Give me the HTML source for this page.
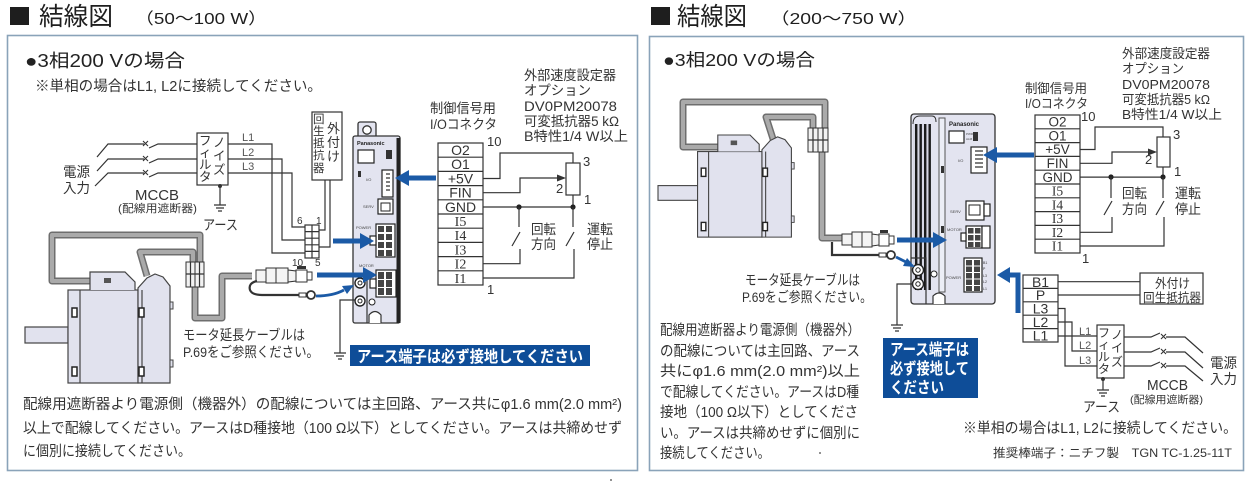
<!DOCTYPE html>
<html><head><meta charset="utf-8">
<style>
html,body{margin:0;padding:0;background:#fff;}
svg{display:block;}
text{font-family:"Liberation Sans","Noto Sans CJK JP",sans-serif;fill:#333;}
.w{stroke:#333;stroke-width:1.2;fill:none;}
.c1{stroke:#6e6e6e;stroke-width:7;fill:none;stroke-linejoin:round;}
.c2{stroke:#aaaaaa;stroke-width:4;fill:none;stroke-linejoin:round;}
.bl{stroke:#1b5aa6;stroke-width:5;fill:none;}
.bf{fill:#1b5aa6;}
.dv{fill:#e3e4f0;stroke:#333;stroke-width:1.3;}
.pk{fill:#fff;stroke:#222;stroke-width:1.2;}
.sq{fill:#444;}
.tiny{font-size:4px;fill:#444;}
.srf{font-family:"Liberation Serif","Noto Serif CJK SC",serif;}
</style></head><body>
<svg width="1250" height="491" viewBox="0 0 1250 491" xmlns="http://www.w3.org/2000/svg">
<defs>
<g id="motor">
 <rect x="0" y="55" width="43" height="16" fill="#e1e2ee" stroke="#444" stroke-width="1.2"/>
 <rect x="43" y="18" width="70" height="93" fill="#e1e2ee" stroke="#444" stroke-width="1.2"/>
 <line x1="55" y1="18" x2="55" y2="111" stroke="#444" stroke-width="1.2"/>
 <rect x="47" y="36" width="5" height="9" fill="#fff" stroke="#222" stroke-width="1.5"/>
 <rect x="47" y="95" width="5" height="9" fill="#fff" stroke="#222" stroke-width="1.5"/>
 <path d="M65 18 V0 H100 L110 10 V18" fill="#e1e2ee" stroke="#444" stroke-width="1.2"/>
 <rect x="79" y="6" width="7" height="5" fill="#555"/>
 <path d="M113 111 V16 L122 6 L130 2 L138 5 L145 14 V111 Z" fill="#e1e2ee" stroke="#444" stroke-width="1.2"/>
 <line x1="117" y1="18" x2="117" y2="111" stroke="#444" stroke-width="1.2"/>
 <rect x="114" y="36" width="5" height="9" fill="#fff" stroke="#222" stroke-width="1.5"/>
 <rect x="114" y="95" width="5" height="9" fill="#fff" stroke="#222" stroke-width="1.5"/>
 <rect x="145" y="30" width="3" height="7" fill="#e1e2ee" stroke="#444"/>
 <rect x="145" y="88" width="3" height="7" fill="#e1e2ee" stroke="#444"/>
</g>
</defs>

<!-- ============ LEFT ============ -->
<rect x="10" y="7" width="19" height="18" fill="#1e1e1e"/>
<text x="39" y="25" font-size="25" textLength="74" lengthAdjust="spacingAndGlyphs" style="fill:#1e1e1e">結線図</text>
<text x="135" y="24" font-size="16" textLength="132" lengthAdjust="spacingAndGlyphs" style="fill:#1e1e1e">（50～100 W）</text>

<rect x="7.5" y="35.5" width="630" height="435" fill="#fff" stroke="#8aa3b9" stroke-width="1.6"/>
<text x="25" y="67" font-size="18" textLength="160" lengthAdjust="spacingAndGlyphs" style="fill:#222">●3相200 Vの場合</text>
<text x="35" y="91" font-size="14.5" textLength="287" lengthAdjust="spacingAndGlyphs">※単相の場合はL1, L2に接続してください。</text>

<!-- power input -->
<text x="63" y="177" font-size="14" textLength="27" lengthAdjust="spacingAndGlyphs">電源</text>
<text x="63" y="193" font-size="14" textLength="27" lengthAdjust="spacingAndGlyphs">入力</text>
<path class="w" d="M97 157 L108 144 H144 M97 171 L108 159 H144 M95 186 L108 173 H144"/>
<g stroke="#333" stroke-width="1.1">
<path d="M143 141 l5 5 m0 -5 l-5 5 M143 156 l5 5 m0 -5 l-5 5 M143 170 l5 5 m0 -5 l-5 5"/>
</g>
<path class="w" d="M149 148 L158 144 H197 M149 163 L158 159 H197 M149 177 L158 173 H197"/>
<text x="135" y="200" font-size="15" textLength="44" lengthAdjust="spacingAndGlyphs">MCCB</text>
<text x="118" y="212" font-size="11" textLength="79" lengthAdjust="spacingAndGlyphs">(配線用遮断器)</text>
<!-- noise filter -->
<rect x="197" y="133" width="31" height="52" fill="#fff" stroke="#333" stroke-width="1.2"/>
<g font-size="12.5">
<text x="199" y="145">フ</text><text x="199" y="157">ィ</text><text x="199" y="169">ル</text><text x="199" y="181">タ</text>
<text x="213" y="147">ノ</text><text x="213" y="160">イ</text><text x="213" y="174">ズ</text>
</g>
<circle cx="220" cy="186" r="2" fill="#333"/>
<path class="w" d="M220 185 V205 M214 205 H226 M216 208 H224 M218 211 H222"/>
<text x="203" y="230" font-size="14" textLength="35" lengthAdjust="spacingAndGlyphs">アース</text>
<!-- L lines -->
<g font-size="11"><text x="242" y="141" style="fill:#555">L1</text><text x="242" y="156" style="fill:#555">L2</text><text x="242" y="170" style="fill:#555">L3</text></g>
<path class="w" d="M228 144 H272 V253 H305 M228 159 H282 V240 H305 M228 173 H292 V227 H305"/>
<!-- connector -->
<rect x="305" y="225" width="14" height="33" fill="#fff" stroke="#333" stroke-width="1.2"/>
<path class="w" d="M312 225 V258 M305 231.6 H319 M305 238.2 H319 M305 244.8 H319 M305 251.4 H319"/>
<g font-size="10"><text x="297" y="224">6</text><text x="316" y="224">1</text><text x="292" y="266">10</text><text x="315" y="266">5</text></g>
<!-- regen resistor -->
<rect x="312" y="112" width="30" height="68" fill="#fff" stroke="#333" stroke-width="1.2"/>
<g font-size="11.5">
<text x="313" y="123">回</text><text x="313" y="135">生</text><text x="313" y="147">抵</text><text x="313" y="159">抗</text><text x="313" y="172">器</text>
</g>
<g font-size="13"><text x="327" y="133">外</text><text x="327" y="147">付</text><text x="327" y="161">け</text></g>
<path class="w" d="M325 180 V230 H319 M330 180 V247 H319"/>

<!-- cables left -->
<path class="c1" d="M90 281 H52 V235 H200 V263"/>
<path class="c2" d="M90 281 H52 V235 H200 V263"/>
<path class="c1" d="M147 276 L140 252 H193 V263"/>
<path class="c2" d="M147 276 L140 252 H193 V263"/>
<path class="c1" d="M195 287 V318 H222 V276 H252"/>
<path class="c2" d="M195 287 V318 H222 V276 H252"/>
<rect x="186" y="262" width="9" height="25" fill="#f2f2f2" stroke="#333"/>
<rect x="195" y="262" width="9" height="25" fill="#f2f2f2" stroke="#333"/>
<path class="w" d="M186 274 H204 M190.5 262 V287 M199.5 262 V287"/>
<use href="#motor" transform="translate(25,272)"/>
<!-- plug left -->
<rect x="256" y="270" width="10" height="12" fill="#f4f4f4" stroke="#333"/>
<rect x="266" y="268" width="22" height="15" fill="#f4f4f4" stroke="#333"/>
<line x1="276" y1="268" x2="276" y2="283" stroke="#333"/>
<path d="M288 270 L296 271 V281 L288 282 Z" fill="#f4f4f4" stroke="#333"/>
<rect x="296" y="270" width="11" height="12" fill="#fff" stroke="#333"/>
<rect x="307" y="272" width="5" height="8" fill="#fff" stroke="#333"/>
<rect x="297" y="266" width="9" height="3" fill="#333"/>
<path d="M257 281 Q248 283 250 290 Q252 295 262 295 H300" stroke="#333" stroke-width="2.2" fill="none"/>
<rect x="299" y="293" width="7" height="4" fill="#fff" stroke="#333"/>
<circle cx="311" cy="295" r="4" fill="#fff" stroke="#333" stroke-width="1.8"/>
<text x="183" y="340" font-size="14" textLength="122" lengthAdjust="spacingAndGlyphs">モータ延長ケーブルは</text>
<text x="183" y="357" font-size="14" textLength="136" lengthAdjust="spacingAndGlyphs">P.69をご参照ください。</text>

<!-- left drive -->
<rect x="358" y="122" width="18" height="17" rx="2" class="dv"/>
<circle cx="367" cy="130" r="4.2" fill="#fff" stroke="#333" stroke-width="1.3"/>
<rect x="353" y="136" width="47" height="187" rx="2" class="dv"/>
<rect x="396.5" y="138" width="4" height="185" fill="#222"/>
<text x="357" y="145" font-size="5.5" font-weight="bold" style="fill:#222">Panasonic</text>
<rect x="358" y="150" width="16" height="13" class="pk"/>
<rect x="386" y="150" width="6" height="9" fill="#333"/>
<rect x="358" y="171" width="3" height="6" fill="#333"/>
<rect x="382" y="170" width="11" height="27" class="pk" stroke-width="1.6"/>
<path class="w" d="M386 174 h4 M386 178 h4 M386 182 h4 M386 186 h4 M386 190 h4"/>
<text x="366" y="181" class="tiny">I/O</text>
<rect x="378" y="199" width="15" height="15" class="pk" stroke-width="1.6"/>
<rect x="381" y="203" width="9" height="8" fill="none" stroke="#222"/>
<text x="363" y="208" class="tiny">SERV</text>
<rect x="376" y="224" width="19" height="33" class="pk"/>
<rect x="370" y="236" width="6" height="9" class="pk"/>
<g class="sq"><rect x="378" y="226" width="6" height="6"/><rect x="386" y="226" width="6" height="6"/><rect x="378" y="234" width="6" height="6"/><rect x="386" y="234" width="6" height="6"/><rect x="378" y="242" width="6" height="6"/><rect x="386" y="242" width="6" height="6"/><rect x="378" y="250" width="6" height="6"/><rect x="386" y="250" width="6" height="6"/></g>
<text x="356" y="229" class="tiny">POWER</text>
<rect x="376" y="270" width="20" height="27" class="pk"/>
<rect x="370" y="279" width="6" height="9" class="pk"/>
<g class="sq"><rect x="378" y="272" width="6" height="7"/><rect x="386" y="272" width="6" height="7"/><rect x="378" y="280" width="6" height="7"/><rect x="386" y="280" width="6" height="7"/><rect x="378" y="288" width="6" height="7"/><rect x="386" y="288" width="6" height="7"/></g>
<text x="359" y="267" class="tiny">MOTOR</text>
<path class="w" d="M353 274 H367 V323"/>
<circle cx="360" cy="283" r="5" fill="#fff" stroke="#222" stroke-width="1.4"/><circle cx="360" cy="283" r="2" fill="none" stroke="#222"/>
<circle cx="360" cy="301" r="5" fill="#fff" stroke="#222" stroke-width="1.4"/><circle cx="360" cy="301" r="2" fill="none" stroke="#222"/>
<circle cx="372" cy="302" r="3" fill="#fff" stroke="#222"/>
<path d="M369 323 V315 Q375 308 381 315 V323" fill="#fff" stroke="#333" stroke-width="1.2"/>
<!-- drive ground -->
<path class="w" d="M355 300 H340 V353 M334 353 H346 M336 356 H344 M338 359 H342"/>

<!-- blue arrows left -->
<line class="bl" x1="436" y1="178" x2="407" y2="178"/><polygon class="bf" points="395,178 409,170 409,186"/>
<line class="bl" x1="333" y1="241" x2="362" y2="241"/><polygon class="bf" points="374,241 360,233 360,249"/>
<line class="bl" x1="317" y1="275" x2="364" y2="275"/><polygon class="bf" points="377,275 363,267 363,283"/>
<path d="M316 296 Q333 296 344 290" stroke="#1b5aa6" stroke-width="2.8" fill="none"/><polygon class="bf" points="354,285 342,286 347,294"/>

<rect x="350" y="345" width="240" height="21" fill="#0e4d98"/>
<text x="357" y="362" font-size="16" font-weight="bold" textLength="226" lengthAdjust="spacingAndGlyphs" style="fill:#fff">アース端子は必ず接地してください</text>

<!-- IO labels left -->
<text x="430" y="113" font-size="13.5" textLength="66" lengthAdjust="spacingAndGlyphs">制御信号用</text>
<text x="430" y="129" font-size="13.5" textLength="67" lengthAdjust="spacingAndGlyphs">I/Oコネクタ</text>
<g font-size="13.5">
<text x="524" y="80" textLength="92" lengthAdjust="spacingAndGlyphs">外部速度設定器</text>
<text x="524" y="95" textLength="67" lengthAdjust="spacingAndGlyphs">オプション</text>
<text x="524" y="111" textLength="93" lengthAdjust="spacingAndGlyphs">DV0PM20078</text>
<text x="524" y="126" textLength="95" lengthAdjust="spacingAndGlyphs">可変抵抗器5 kΩ</text>
<text x="524" y="141" textLength="104" lengthAdjust="spacingAndGlyphs">B特性1/4 W以上</text>
</g>
<!-- IO table left -->
<rect x="438" y="143" width="45" height="142" fill="#fff" stroke="#333" stroke-width="1.2"/>
<path class="w" d="M438 157.2 H483 M438 171.4 H483 M438 185.6 H483 M438 199.8 H483 M438 214 H483 M438 228.2 H483 M438 242.4 H483 M438 256.6 H483 M438 270.8 H483"/>
<g font-size="14" text-anchor="middle">
<text x="460.5" y="155">O2</text><text x="460.5" y="169">O1</text><text x="460.5" y="183.5">+5V</text><text x="460.5" y="197.5">FIN</text><text x="460.5" y="212">GND</text>
<text x="460.5" y="226" class="srf">I5</text><text x="460.5" y="240" class="srf">I4</text><text x="460.5" y="254.5" class="srf">I3</text><text x="460.5" y="268.5" class="srf">I2</text><text x="460.5" y="283" class="srf">I1</text>
</g>
<text x="487" y="146" font-size="13">10</text>
<text x="487" y="294" font-size="13">1</text>
<path class="w" d="M483 178.5 H500 V153 H573 V163 M483 192.7 H520 V178 H558 M483 207 H573 V195"/>
<polygon points="566,178 557,174.5 557,181.5" fill="#333"/>
<rect x="566" y="163" width="14" height="32" fill="#fff" stroke="#333" stroke-width="1.2"/>
<text x="583" y="166" font-size="13">3</text>
<text x="556" y="193" font-size="13">2</text>
<text x="584" y="204" font-size="13">1</text>
<circle cx="519" cy="207" r="2.6" fill="#222"/><circle cx="573" cy="207" r="2.6" fill="#222"/>
<path class="w" d="M519 207 V227 M512 246 L520 232 M520 249 V263.7 H483 M573 207 V227 M566 246 L574 232 M574 249 V278 H483"/>
<g font-size="13.5">
<text x="531" y="234" textLength="25" lengthAdjust="spacingAndGlyphs">回転</text>
<text x="531" y="249" textLength="25" lengthAdjust="spacingAndGlyphs">方向</text>
<text x="587" y="234" textLength="26" lengthAdjust="spacingAndGlyphs">運転</text>
<text x="587" y="249" textLength="26" lengthAdjust="spacingAndGlyphs">停止</text>
</g>

<g font-size="14.5">
<text x="23" y="409" textLength="599" lengthAdjust="spacingAndGlyphs">配線用遮断器より電源側（機器外）の配線については主回路、アース共にφ1.6 mm(2.0 mm²)</text>
<text x="23" y="433" textLength="599" lengthAdjust="spacingAndGlyphs">以上で配線してください。アースはD種接地（100 Ω以下）としてください。アースは共締めせず</text>
<text x="23" y="456" textLength="168" lengthAdjust="spacingAndGlyphs">に個別に接続してください。</text>
</g>
<circle cx="611" cy="480" r="0.9" fill="#444"/>

<!-- ============ RIGHT ============ -->
<rect x="651" y="7" width="19" height="18" fill="#1e1e1e"/>
<text x="677" y="25" font-size="25" textLength="70" lengthAdjust="spacingAndGlyphs" style="fill:#1e1e1e">結線図</text>
<text x="770" y="24" font-size="16" textLength="147" lengthAdjust="spacingAndGlyphs" style="fill:#1e1e1e">（200～750 W）</text>
<rect x="649.5" y="36.5" width="594" height="434" fill="#fff" stroke="#8aa3b9" stroke-width="1.6"/>
<text x="663" y="66" font-size="17.5" textLength="152" lengthAdjust="spacingAndGlyphs" style="fill:#222">●3相200 Vの場合</text>

<!-- cables right -->
<path class="c1" d="M718 147 H683 V102 H825 V128"/>
<path class="c2" d="M718 147 H683 V102 H825 V128"/>
<path class="c1" d="M774 142 L766 117 H813 V128"/>
<path class="c2" d="M774 142 L766 117 H813 V128"/>
<path class="c1" d="M822 152 V238 H842"/>
<path class="c2" d="M822 152 V238 H842"/>
<rect x="808" y="128" width="10" height="24" fill="#f2f2f2" stroke="#333"/>
<rect x="818" y="128" width="10" height="24" fill="#f2f2f2" stroke="#333"/>
<path class="w" d="M808 140 H828 M813 128 V152 M823 128 V152"/>
<use href="#motor" transform="translate(658,135) scale(0.92)"/>
<!-- plug right -->
<rect x="842" y="234" width="10" height="11" fill="#f4f4f4" stroke="#333"/>
<rect x="852" y="232" width="20" height="15" fill="#f4f4f4" stroke="#333"/>
<line x1="862" y1="232" x2="862" y2="247" stroke="#333"/>
<path d="M872 234 L879 235 V245 L872 246 Z" fill="#f4f4f4" stroke="#333"/>
<rect x="879" y="234" width="10" height="12" fill="#fff" stroke="#333"/>
<rect x="889" y="236" width="5" height="8" fill="#fff" stroke="#333"/>
<rect x="880" y="230" width="8" height="3" fill="#333"/>
<path d="M832 242 V255 H880" stroke="#333" stroke-width="2.2" fill="none"/>
<rect x="879" y="253" width="7" height="4" fill="#fff" stroke="#333"/>
<circle cx="891" cy="255" r="4" fill="#fff" stroke="#333" stroke-width="1.8"/>
<text x="745" y="285" font-size="14" textLength="115" lengthAdjust="spacingAndGlyphs">モータ延長ケーブルは</text>
<text x="742" y="302" font-size="14" textLength="130" lengthAdjust="spacingAndGlyphs">P.69をご参照ください。</text>

<!-- right drive -->
<rect x="911" y="114" width="84" height="190" rx="3" class="dv"/>
<path d="M913 124 Q913 116 920 116 H932 Q936 116 936 122" fill="none" stroke="#333"/>
<rect x="913" y="124" width="18" height="166" fill="#d6d7e4"/>
<g fill="#1a1a1a"><rect x="915" y="124" width="2.4" height="166"/><rect x="919.5" y="124" width="2.4" height="166"/><rect x="924" y="124" width="2.4" height="166"/><rect x="928.5" y="124" width="2.4" height="166"/></g>
<rect x="939" y="118" width="6" height="174" fill="#eceef6" stroke="#555" stroke-width="1"/>
<rect x="941" y="166" width="3" height="7" fill="#333"/><rect x="941" y="226" width="3" height="7" fill="#333"/>
<text x="949" y="126" font-size="6" font-weight="bold" style="fill:#222">Panasonic</text>
<rect x="949" y="131" width="15" height="12" class="pk"/>
<text x="966" y="135" class="tiny" style="font-size:3px">PWR</text><text x="966" y="140" class="tiny" style="font-size:3px">ALM</text>
<rect x="973" y="132" width="5" height="9" fill="#333"/>
<rect x="971" y="147" width="16" height="26" class="pk" stroke-width="1.6"/>
<path class="w" d="M975 151 h8 M975 155 h8 M975 159 h8 M975 163 h8 M975 167 h8"/>
<text x="958" y="162" class="tiny">I/O</text>
<rect x="966" y="201" width="18" height="19" class="pk" stroke-width="1.6"/>
<rect x="969" y="205" width="11" height="10" fill="none" stroke="#222"/>
<rect x="984" y="204" width="6" height="12" class="pk"/>
<text x="950" y="213" class="tiny">SERV</text>
<rect x="966" y="226" width="16" height="22" class="pk"/>
<rect x="982" y="226" width="8" height="22" class="pk"/>
<rect x="961" y="233" width="5" height="8" class="pk"/>
<g class="sq"><rect x="968" y="228" width="5.5" height="5.5"/><rect x="975" y="228" width="5.5" height="5.5"/><rect x="968" y="235" width="5.5" height="5.5"/><rect x="975" y="235" width="5.5" height="5.5"/><rect x="968" y="242" width="5.5" height="5"/><rect x="975" y="242" width="5.5" height="5"/></g>
<text x="947" y="231" class="tiny">MOTOR</text>
<rect x="964" y="258" width="18" height="34" class="pk"/>
<g class="sq"><rect x="966" y="260" width="6" height="5.5"/><rect x="974" y="260" width="6" height="5.5"/><rect x="966" y="266.5" width="6" height="5.5"/><rect x="974" y="266.5" width="6" height="5.5"/><rect x="966" y="273" width="6" height="5.5"/><rect x="974" y="273" width="6" height="5.5"/><rect x="966" y="279.5" width="6" height="5.5"/><rect x="974" y="279.5" width="6" height="5.5"/><rect x="966" y="286" width="6" height="5"/><rect x="974" y="286" width="6" height="5"/></g>
<g class="tiny" style="font-size:3.5px"><text x="983" y="264">B1</text><text x="983" y="270">P</text><text x="983" y="277">L3</text><text x="983" y="283">L2</text><text x="983" y="290">L1</text></g>
<text x="946" y="279" class="tiny">POWER</text>
<path d="M911 258 H926 V304" fill="none" stroke="#333" stroke-width="1.2"/>
<circle cx="918" cy="270" r="5.5" fill="#fff" stroke="#222" stroke-width="1.4"/><circle cx="918" cy="270" r="2.2" fill="none" stroke="#222"/>
<circle cx="918" cy="284" r="5.5" fill="#fff" stroke="#222" stroke-width="1.4"/><circle cx="918" cy="284" r="2.2" fill="none" stroke="#222"/>
<circle cx="934" cy="274" r="3" fill="#fff" stroke="#222"/>
<path d="M933 304 V296 Q939 290 945 296 V304" fill="#fff" stroke="#333" stroke-width="1.2"/>
<path class="w" d="M913 284 H897 V325 M891 325 H903 M893 328 H901 M895 331 H899"/>

<!-- blue arrows right -->
<line class="bl" x1="1034" y1="155" x2="995" y2="155"/><polygon class="bf" points="983,155 997,147 997,163"/>
<line class="bl" x1="897" y1="240" x2="934" y2="240"/><polygon class="bf" points="947,240 933,232 933,248"/>
<path d="M896 257 L906 262" stroke="#1b5aa6" stroke-width="2.8" fill="none"/><polygon class="bf" points="915,267 903,266 907,258"/>
<path class="bl" d="M1018 313 V275 H1009"/><polygon class="bf" points="997,275 1010,267 1010,283"/>

<rect x="883" y="338" width="95" height="60" fill="#0e4d98"/>
<g font-size="16" font-weight="bold" style="fill:#fff">
<text x="890" y="355" textLength="79" lengthAdjust="spacingAndGlyphs" style="fill:#fff">アース端子は</text>
<text x="890" y="374" textLength="79" lengthAdjust="spacingAndGlyphs" style="fill:#fff">必ず接地して</text>
<text x="890" y="393" textLength="54" lengthAdjust="spacingAndGlyphs" style="fill:#fff">ください</text>
</g>

<!-- IO labels right -->
<text x="1025" y="93" font-size="13" textLength="62" lengthAdjust="spacingAndGlyphs">制御信号用</text>
<text x="1025" y="108" font-size="13" textLength="63" lengthAdjust="spacingAndGlyphs">I/Oコネクタ</text>
<g font-size="13">
<text x="1122" y="58" textLength="88" lengthAdjust="spacingAndGlyphs">外部速度設定器</text>
<text x="1122" y="73" textLength="62" lengthAdjust="spacingAndGlyphs">オプション</text>
<text x="1122" y="89" textLength="88" lengthAdjust="spacingAndGlyphs">DV0PM20078</text>
<text x="1122" y="104" textLength="88" lengthAdjust="spacingAndGlyphs">可変抵抗器5 kΩ</text>
<text x="1122" y="119" textLength="100" lengthAdjust="spacingAndGlyphs">B特性1/4 W以上</text>
</g>
<rect x="1035" y="115" width="45" height="138" fill="#fff" stroke="#333" stroke-width="1.2"/>
<path class="w" d="M1035 128.8 H1080 M1035 142.6 H1080 M1035 156.4 H1080 M1035 170.2 H1080 M1035 184 H1080 M1035 197.8 H1080 M1035 211.6 H1080 M1035 225.4 H1080 M1035 239.2 H1080"/>
<g font-size="13.5" text-anchor="middle">
<text x="1057.5" y="126.5">O2</text><text x="1057.5" y="140.5">O1</text><text x="1057.5" y="154">+5V</text><text x="1057.5" y="168">FIN</text><text x="1057.5" y="182">GND</text>
<text x="1057.5" y="195.5" class="srf">I5</text><text x="1057.5" y="209.5" class="srf">I4</text><text x="1057.5" y="223" class="srf">I3</text><text x="1057.5" y="237" class="srf">I2</text><text x="1057.5" y="250.5" class="srf">I1</text>
</g>
<text x="1081" y="121" font-size="13">10</text>
<text x="1082" y="263" font-size="13">1</text>
<path class="w" d="M1080 149.5 H1095 V127 H1163 V137 M1080 163.3 H1112 V152 H1150 M1080 177.1 H1163 V167"/>
<polygon points="1157,152 1148,148.5 1148,155.5" fill="#333"/>
<rect x="1157" y="137" width="13" height="30" fill="#fff" stroke="#333" stroke-width="1.2"/>
<text x="1173" y="139" font-size="13">3</text>
<text x="1145" y="164" font-size="13">2</text>
<text x="1174" y="176" font-size="13">1</text>
<circle cx="1111" cy="177" r="2.6" fill="#222"/><circle cx="1163" cy="177" r="2.6" fill="#222"/>
<path class="w" d="M1111 177 V198 M1104 215 L1112 201 M1112 217 V232.3 H1080 M1163 177 V198 M1156 215 L1164 201 M1164 217 V246 H1080"/>
<g font-size="13.5">
<text x="1122" y="198" textLength="25" lengthAdjust="spacingAndGlyphs">回転</text>
<text x="1122" y="214" textLength="25" lengthAdjust="spacingAndGlyphs">方向</text>
<text x="1175" y="198" textLength="26" lengthAdjust="spacingAndGlyphs">運転</text>
<text x="1175" y="214" textLength="26" lengthAdjust="spacingAndGlyphs">停止</text>
</g>

<!-- power table right -->
<rect x="1023" y="275" width="35" height="67" fill="#fff" stroke="#333" stroke-width="1.2"/>
<path class="w" d="M1023 288.4 H1058 M1023 301.8 H1058 M1023 315.2 H1058 M1023 328.6 H1058"/>
<g font-size="14" text-anchor="middle">
<text x="1040.5" y="287">B1</text><text x="1040.5" y="300">P</text><text x="1040.5" y="313.5">L3</text><text x="1040.5" y="327">L2</text><text x="1040.5" y="340.5">L1</text>
</g>
<path class="w" d="M1058 281.7 H1140 M1058 295 H1140"/>
<rect x="1140" y="273" width="63" height="31" fill="#fff" stroke="#333" stroke-width="1.2"/>
<text x="1155" y="288" font-size="13" textLength="35" lengthAdjust="spacingAndGlyphs">外付け</text>
<text x="1143" y="302" font-size="12.5" textLength="58" lengthAdjust="spacingAndGlyphs">回生抵抗器</text>
<path class="w" d="M1058 336 H1097 M1058 322 H1072 V351 H1097 M1058 308.5 H1065 V366 H1097"/>
<g font-size="11"><text x="1079" y="335" style="fill:#555">L1</text><text x="1079" y="349" style="fill:#555">L2</text><text x="1079" y="364" style="fill:#555">L3</text></g>
<rect x="1097" y="325" width="27" height="53" fill="#fff" stroke="#333" stroke-width="1.2"/>
<g font-size="12">
<text x="1098" y="337">フ</text><text x="1098" y="349">ィ</text><text x="1098" y="361">ル</text><text x="1098" y="373">タ</text>
<text x="1111" y="339">ノ</text><text x="1111" y="352">イ</text><text x="1111" y="366">ズ</text>
</g>
<circle cx="1103" cy="379" r="2" fill="#333"/>
<path class="w" d="M1103 378 V390 M1097 390 H1109 M1099 393 H1107 M1101 396 H1105"/>
<text x="1083" y="412" font-size="14" textLength="37" lengthAdjust="spacingAndGlyphs">アース</text>
<path class="w" d="M1124 337 H1151 L1160 333 M1124 352 H1151 L1160 348 M1124 366 H1151 L1160 362"/>
<g stroke="#333" stroke-width="1.1"><path d="M1161 334 l5 5 m0 -5 l-5 5 M1161 349 l5 5 m0 -5 l-5 5 M1161 363 l5 5 m0 -5 l-5 5"/></g>
<path class="w" d="M1166 337 H1185 L1203 353 M1166 352 H1185 L1203 368 M1166 366 H1185 L1203 381"/>
<text x="1210" y="368" font-size="14" textLength="27" lengthAdjust="spacingAndGlyphs">電源</text>
<text x="1210" y="384" font-size="14" textLength="27" lengthAdjust="spacingAndGlyphs">入力</text>
<text x="1147" y="390" font-size="15" textLength="41" lengthAdjust="spacingAndGlyphs">MCCB</text>
<text x="1130" y="403" font-size="10.5" textLength="73" lengthAdjust="spacingAndGlyphs">(配線用遮断器)</text>
<text x="963" y="433" font-size="14.5" textLength="274" lengthAdjust="spacingAndGlyphs">※単相の場合はL1, L2に接続してください。</text>
<text x="993" y="457" font-size="12" textLength="239" lengthAdjust="spacingAndGlyphs">推奨棒端子：ニチフ製　TGN TC-1.25-11T</text>

<g font-size="14.5">
<text x="660" y="335" textLength="200" lengthAdjust="spacingAndGlyphs">配線用遮断器より電源側（機器外）</text>
<text x="660" y="356" textLength="200" lengthAdjust="spacingAndGlyphs">の配線については主回路、アース</text>
<text x="660" y="376" textLength="200" lengthAdjust="spacingAndGlyphs">共にφ1.6 mm(2.0 mm²)以上</text>
<text x="660" y="397" textLength="199" lengthAdjust="spacingAndGlyphs">で配線してください。アースはD種</text>
<text x="660" y="417" textLength="198" lengthAdjust="spacingAndGlyphs">接地（100 Ω以下）としてくださ</text>
<text x="660" y="438" textLength="200" lengthAdjust="spacingAndGlyphs">い。アースは共締めせずに個別に</text>
<text x="660" y="458" textLength="110" lengthAdjust="spacingAndGlyphs">接続してください。</text>
</g>
<circle cx="820" cy="453" r="0.9" fill="#444"/>
</svg>
</body></html>
